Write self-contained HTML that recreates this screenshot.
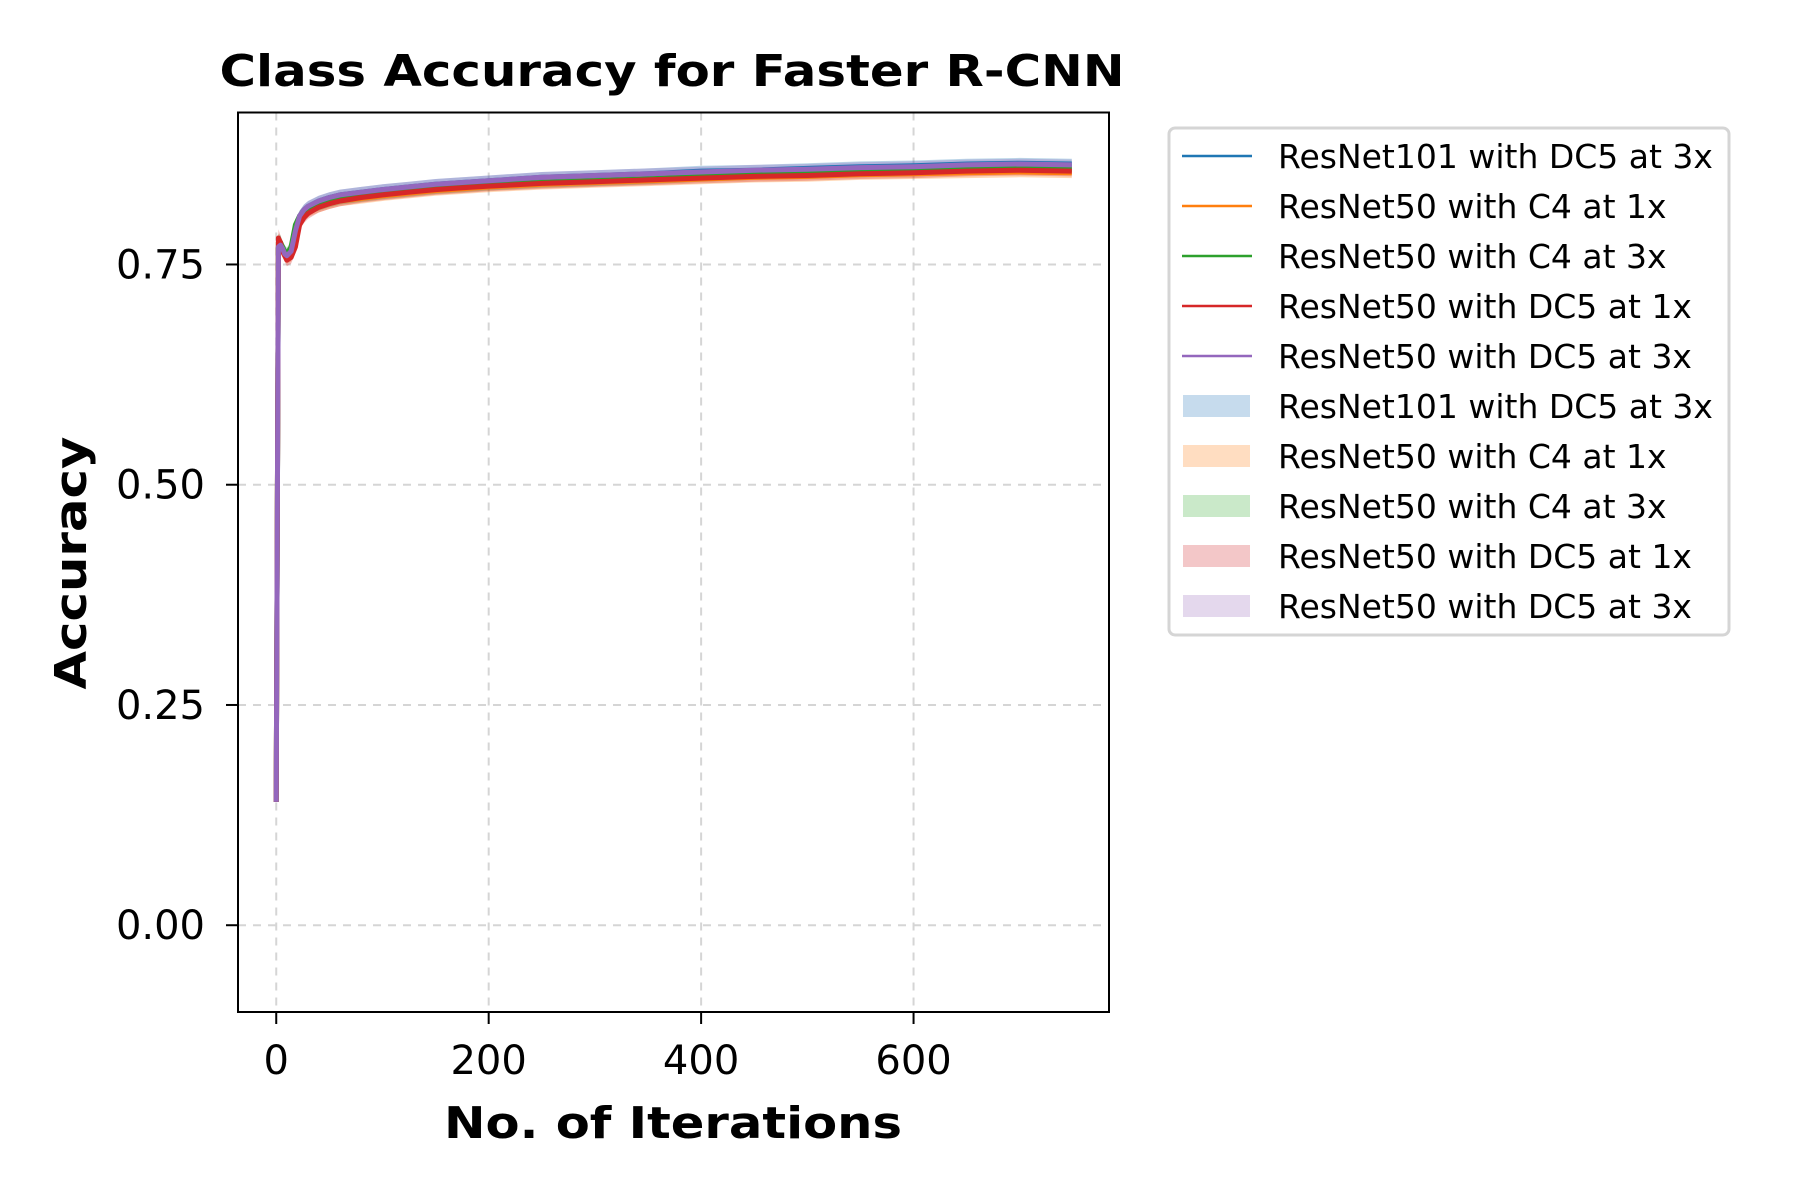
<!DOCTYPE html>
<html><head><meta charset="utf-8"><style>
html,body{margin:0;padding:0;background:#fff;}
svg{display:block;font-family:"DejaVu Sans","Liberation Sans",sans-serif;}
</style></head><body>
<svg id="chart" width="1800" height="1200" viewBox="0 0 1800 1200" xmlns="http://www.w3.org/2000/svg">
<rect x="0" y="0" width="1800" height="1200" fill="#fff"/>
<g id="grid"></g>
<g id="plot"></g>
<g id="axes"></g>
<text x="672" y="86" text-anchor="middle" font-size="44" font-weight="bold" textLength="905" lengthAdjust="spacingAndGlyphs">Class Accuracy for Faster R-CNN</text>
<text x="673" y="1138" text-anchor="middle" font-size="44" font-weight="bold" textLength="458" lengthAdjust="spacingAndGlyphs">No. of Iterations</text>
<text transform="translate(86,563) rotate(-90)" text-anchor="middle" font-size="44" font-weight="bold" textLength="253" lengthAdjust="spacingAndGlyphs">Accuracy</text>
<g id="legend"></g>
</svg>
<script>
const iterations=[0,2,4,6,8,10,14,18,22,26,30,40,50,60,80,100,125,150,175,200,250,300,350,400,450,500,550,600,650,700,749];
const seriesNames=["ResNet101 with DC5 at 3x","ResNet50 with C4 at 1x","ResNet50 with C4 at 3x","ResNet50 with DC5 at 1x","ResNet50 with DC5 at 3x"];
const blueVals=[0.14,0.77,0.775,0.765,0.765,0.76,0.765,0.785,0.805,0.812,0.816,0.822,0.826,0.829,0.832,0.835,0.838,0.841,0.843,0.845,0.849,0.851,0.853,0.856,0.857,0.859,0.861,0.862,0.864,0.865,0.864];
const orangeVals=[0.14,0.775,0.77,0.765,0.76,0.758,0.76,0.78,0.8,0.806,0.81,0.815,0.819,0.822,0.825,0.828,0.831,0.834,0.836,0.838,0.841,0.843,0.845,0.847,0.849,0.85,0.852,0.853,0.854,0.855,0.854];
const greenVals=[0.14,0.775,0.775,0.77,0.765,0.762,0.77,0.795,0.805,0.81,0.813,0.817,0.821,0.824,0.827,0.83,0.833,0.836,0.838,0.84,0.843,0.845,0.847,0.85,0.852,0.853,0.855,0.856,0.858,0.859,0.858];
const redVals=[0.14,0.78,0.775,0.765,0.76,0.755,0.758,0.77,0.795,0.803,0.808,0.815,0.819,0.822,0.826,0.829,0.832,0.835,0.837,0.839,0.842,0.844,0.846,0.848,0.85,0.851,0.853,0.854,0.856,0.857,0.856];
const purpleVals=[0.14,0.77,0.772,0.768,0.762,0.76,0.765,0.788,0.805,0.812,0.816,0.822,0.826,0.829,0.832,0.835,0.838,0.841,0.843,0.845,0.849,0.851,0.853,0.855,0.857,0.858,0.86,0.861,0.863,0.864,0.863];
const bandHalf=[0.004,0.01,0.008,0.007,0.007,0.007,0.007,0.007,0.006,0.006,0.006,0.006,0.006,0.006,0.006,0.006,0.006,0.006,0.006,0.006,0.006,0.006,0.006,0.006,0.006,0.006,0.006,0.006,0.006,0.006,0.006];
const xTicks=[0,200,400,600];
const xTickLabels=["0","200","400","600"];
const yTicks=[0,0.25,0.5,0.75];
const yTickLabels=["0.00","0.25","0.50","0.75"];

const NS="http://www.w3.org/2000/svg";
const L=238,R=1109,T=112.5,B=1012;
const xMin=-36,xMax=784,yMin=-0.0985,yMax=0.9225;
function xs(v){return L+(v-xMin)/(xMax-xMin)*(R-L);}
function ys(v){return B-(v-yMin)/(yMax-yMin)*(B-T);}
function mk(tag,attrs,parent){const e=document.createElementNS(NS,tag);for(const k in attrs)e.setAttribute(k,attrs[k]);parent.appendChild(e);return e;}
const colors=["#1f77b4","#ff7f0e","#2ca02c","#d62728","#9467bd"];
const allVals=[blueVals,orangeVals,greenVals,redVals,purpleVals];
const grid=document.getElementById('grid'),plot=document.getElementById('plot'),axes=document.getElementById('axes'),legend=document.getElementById('legend');

xTicks.forEach((t,i)=>{
  const g=mk('line',{x1:xs(t),x2:xs(t),y1:T,y2:B,stroke:'#d5d5d5','stroke-width':2,'stroke-dasharray':'8,7'},grid);
  
  
  const tk=mk('line',{x1:xs(t),x2:xs(t),y1:B,y2:B+12,stroke:'#000','stroke-width':2},axes);
  
  
  const lb=mk('text',{x:xs(t),y:B+62,'text-anchor':'middle','font-size':40},axes);
  lb.textContent=xTickLabels[i];
  
  
});
yTicks.forEach((t,i)=>{
  const g=mk('line',{x1:L,x2:R,y1:ys(t),y2:ys(t),stroke:'#d5d5d5','stroke-width':2,'stroke-dasharray':'8,7'},grid);
  
  
  const tk=mk('line',{x1:L-12,x2:L,y1:ys(t),y2:ys(t),stroke:'#000','stroke-width':2},axes);
  
  
  const lb=mk('text',{x:L-33,y:ys(t)+14,'text-anchor':'end','font-size':40},axes);
  lb.textContent=yTickLabels[i];
  
  
});
const sp=mk('rect',{x:L,y:T,width:R-L,height:B-T,fill:'none',stroke:'#000','stroke-width':2},axes);



allVals.forEach((vals,s)=>{
  let top='',bot='';
  iterations.forEach((it,i)=>{top+=(i?'L':'M')+xs(it).toFixed(1)+','+ys(vals[i]+bandHalf[i]).toFixed(1);});
  for(let i=iterations.length-1;i>=0;i--){bot+='L'+xs(iterations[i]).toFixed(1)+','+ys(vals[i]-bandHalf[i]).toFixed(1);}
  const band=mk('path',{d:top+bot+'Z',fill:colors[s],'fill-opacity':0.3,stroke:'none'},plot);
  
  
});
allVals.forEach((vals,s)=>{
  let d='';
  iterations.forEach((it,i)=>{d+=(i?'L':'M')+xs(it).toFixed(1)+','+ys(vals[i]).toFixed(1);});
  const ln=mk('path',{d:d,fill:'none',stroke:colors[s],'stroke-width':5,'stroke-linejoin':'round'},plot);
  
  
});

const box=mk('rect',{x:1169,y:128,width:560,height:507,rx:6,fill:'#fff',stroke:'#d5d5d5','stroke-width':3},legend);


const light=["#c6dbed","#ffddc1","#cae9c9","#f3c7c8","#e4d8ed"];
for(let r=0;r<10;r++){
  const y=156+r*50;
  const s=r%5;
  if(r<5){
    const h=mk('line',{x1:1182,x2:1252,y1:y,y2:y,stroke:colors[s],'stroke-width':2.5},legend);
    
    
  }else{
    const h=mk('rect',{x:1183,y:y-11,width:67,height:22,fill:light[s]},legend);
    
    
  }
  const t=mk('text',{x:1278,y:y+12,'font-size':33},legend);
  t.textContent=seriesNames[s];
  
  
}
</script>
</body></html>
